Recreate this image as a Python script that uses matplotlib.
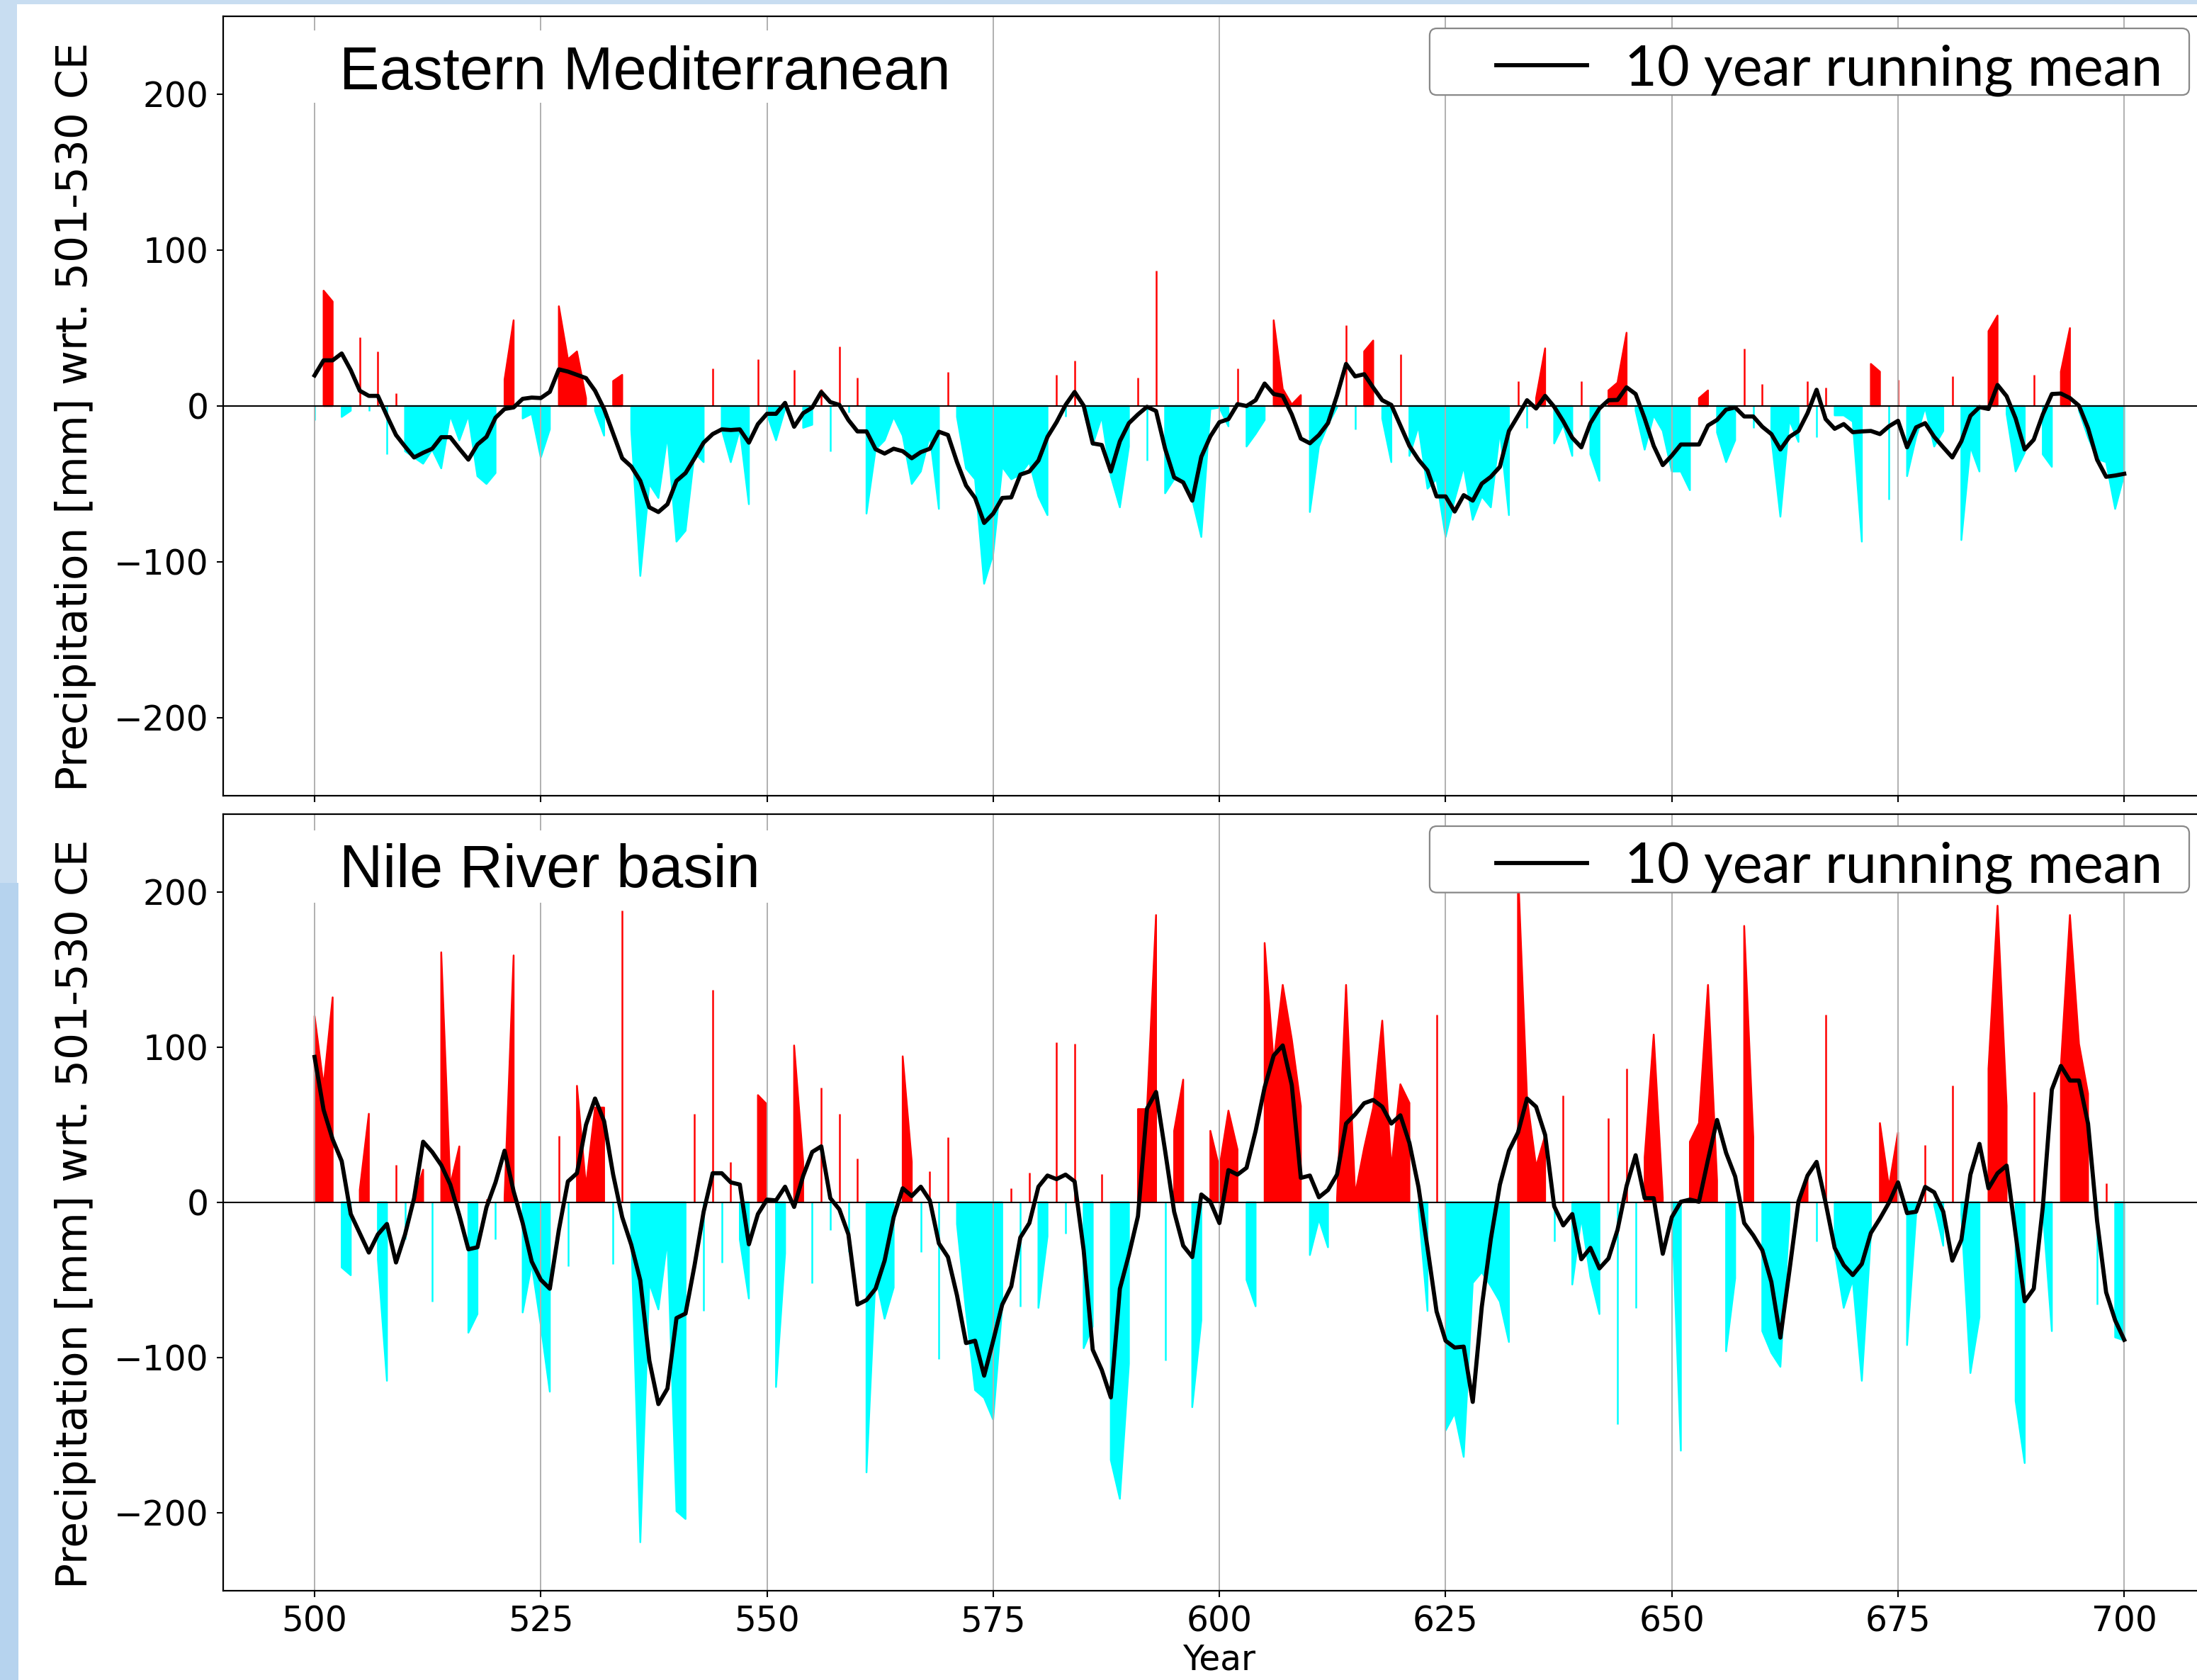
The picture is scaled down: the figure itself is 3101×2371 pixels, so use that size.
import numpy as np
import matplotlib
matplotlib.use('Agg')
import matplotlib.pyplot as plt
from matplotlib.lines import Line2D
from matplotlib.patches import FancyBboxPatch, Rectangle

# Years 500..700 CE
years = np.arange(500, 701)

# Eastern Mediterranean: annual precipitation anomaly [mm] wrt. 501-530 CE
em_anom = [
    -9, 74, 67, -7, -3, 44, -3, 35, -31, 8,            # 500
    -29, -33, -37, -28, -40, -6, -22, -6, -45, -50,    # 510
    -43, 17, 55, -8, -5, -33, -15, 64, 30, 35,         # 520
    5, -3, -19, 16, 20, -15, -109, -50, -59, -19,      # 530
    -87, -80, -30, -36, 24, -15, -36, -15, -63, 30,    # 540
    -5, -22, -2, 23, -14, -12, 11, -29, 38, -4,        # 550
    18, -69, -28, -22, -7, -19, -50, -42, -19, -66,    # 560
    22, -7, -40, -47, -114, -95, -39, -47, -44, -36,   # 570
    -58, -70, 20, -7, 29, -3, -25, -7, -45, -65,       # 580
    -26, 18, -35, 87, -56, -47, -49, -60, -84, -2,     # 590
    -1, -13, 24, -26, -18, -9, 55, 11, 1, 7,           # 600
    -68, -26, -12, -1, 52, -15, 35, 42, -8, -36,       # 610
    33, -32, -13, -53, -47, -84, -60, -39, -73, -58,   # 620
    -65, -16, -70, 16, -14, 5, 37, -24, -12, -32,      # 630
    16, -31, -48, 10, 15, 47, -3, -28, -6, -16,        # 640
    -42, -42, -54, 5, 10, -17, -36, -22, 37, -14,      # 650
    14, -20, -71, -9, -23, 16, -20, 12, -6, -6,        # 660
    -10, -87, 27, 22, -60, 17, -45, -20, -1, -26,      # 670
    -16, 19, -86, -26, -42, 48, 58, -5, -42, -30,      # 680
    20, -31, -39, 22, 50, -3, -20, -34, -36, -66,      # 690
    -44,                                               # 700
]

# Eastern Mediterranean: 10 year running mean
em_mean = [
    19.6, 29.3, 29.3, 33.7, 23, 9.8, 6.5, 6.5, -6.3, -18.6,
    -26, -33, -30, -27.4, -20, -20, -27.4, -34.4, -24.7, -19.8,
    -7.5, -1.9, -0.9, 4.6, 5.4, 5.1, 9.1, 23.5, 22.1, 20,
    17.9, 9.8, -1.9, -17.7, -33.5, -38.8, -48, -65, -68, -63,
    -48, -43, -33.5, -23.5, -18, -15, -15.4, -15, -23.5, -11.6,
    -5, -5, 2, -13.3, -4.6, -1, 9, 2.5, 0.7, -9,
    -16.3, -16.3, -27.7, -30.5, -27.4, -29, -33.5, -29.6, -27.4, -16.5,
    -18.6, -36, -51, -59, -75, -69, -59, -58.6, -44, -42,
    -35, -19.8, -10.4, 0.7, 9, 0.2, -24, -25, -42, -22.6,
    -11, -5.4, -0.5, -3.2, -27.4, -45.8, -49, -60.7, -32.6, -19.5,
    -10.4, -8.4, 1.2, 0, 3.7, 14.4, 7.7, 6.5, -5.4, -20.9,
    -23.9, -18.6, -11, 6.8, 27, 19, 20.4, 11.8, 3.7, 0.7,
    -12.5, -25.6, -34.4, -41.4, -58, -58, -67.7, -57.2, -60.7, -49.8,
    -45.4, -39, -16, -6.3, 3.7, -1.6, 6.5, -0.5, -9.8, -20.4,
    -26.5, -11, -1.6, 3.7, 3.9, 12, 7.7, -8, -25.6, -37.9,
    -31.8, -24.7, -24.7, -24.7, -12.5, -8.9, -2.3, -0.9, -6.7, -6.7,
    -13.3, -18, -27.9, -19.8, -16, -4.6, 10.4, -8.4, -14.6, -11.6,
    -16.8, -16.3, -16, -18, -13, -9.5, -26.5, -13.7, -11, -19.8,
    -26.5, -33, -22.6, -6.3, -0.7, -1.9, 13.5, 6.3, -8, -27.9,
    -21.6, -5.4, 7.7, 8, 5.1, 0.2, -14.2, -34.4, -45.4, -44.6,
    -43.5,
]

# Nile River basin: annual precipitation anomaly [mm] wrt. 501-530 CE
nile_anom = [
    120, 75, 132, -42, -47, 8, 57, -37, -115, 24,          # 500
    -24, 2, 21, -64, 161, 11, 36, -84, -72, 2,             # 510
    -24, 3, 159, -71, -40, -79, -122, 43, -41, 75,         # 520
    10, 61, 61, -40, 188, -20, -219, -52, -69, -24,        # 530
    -199, -204, 57, -70, 137, -39, 26, -24, -62, 69,       # 540
    63, -119, -33, 101, 26, -52, 74, -18, 57, -32,         # 550
    28, -174, -47, -75, -55, 94, 26, -32, 20, -101,        # 560
    42, -14, -70, -121, -126, -140, -67, 9, -67, 19,       # 570
    -68, -22, 103, -20, 102, -94, -80, 18, -166, -191,     # 580
    -104, 60, 60, 185, -102, 46, 79, -132, -76, 46,        # 590
    22, 59, 34, -50, -67, 167, 90, 140, 105, 62,           # 600
    -34, -11, -29, 2, 140, 5, 35, 61, 117, 22,             # 610
    76, 64, -3, -70, 121, -147, -136, -164, -52, -45,      # 620
    -54, -64, -90, 215, 67, 23, 43, -25, 69, -53,          # 630
    -10, -48, -72, 54, -143, 86, -68, 29, 108, 3,          # 640
    -3, -160, 39, 51, 140, 14, -96, -49, 178, 42,          # 650
    -83, -97, -106, -10, 1, 18, -25, 121, -31, -68,        # 660
    -50, -115, -21, 51, 10, 45, -92, -8, 37, -2,           # 670
    -28, 75, -8, -110, -74, 86, 191, 62, -128, -168,       # 680
    71, -5, -83, 88, 185, 102, 70, -66, 12, -87,           # 690
    -89,                                                   # 700
]

# Nile River basin: 10 year running mean
nile_mean = [
    93.6, 59.5, 40.5, 26.5, -7.6, -20, -32.4, -20.7, -14, -38.8,
    -20.7, 2.6, 39, 32.4, 23.9, 11.4, -8.5, -30.3, -29, -3.2,
    12.8, 33.2, 7, -13.4, -38.2, -49.9, -55.7, -17.8, 13.4, 18.7,
    49.9, 66.8, 52.2, 17.8, -9.6, -27.4, -50.4, -102, -130, -120,
    -74.6, -71.7, -40.5, -6.1, 18.7, 18.7, 12.8, 11.4, -27.1, -7.6,
    1.7, 1.2, 10, -3, 17, 32.4, 36, 2.6, -4.6, -20.7,
    -65.9, -63, -55.7, -37.6, -9.6, 9, 4, 10, 1.2, -26.5,
    -35.3, -60, -90.7, -89.2, -111.7, -89.2, -65.9, -54.2, -22.7, -13.4,
    10, 17.2, 14.9, 17.8, 13.4, -30.9, -95, -108, -125.7, -55.7,
    -33.8, -9, 60.3, 71, 33.2, -6.1, -28, -35.3, 5, 0.3,
    -13.4, 20.7, 17.8, 22.2, 45.8, 74, 94.5, 101, 75.5, 15.7,
    17.2, 3.2, 7.9, 17.8, 50.7, 56.6, 63.8, 65.9, 61.5, 50.7,
    56, 38.2, 9.9, -29.4, -70.3, -89.2, -93.6, -93, -128.6, -67.3,
    -23.6, 11.4, 33.2, 44.9, 66.8, 61.5, 43.4, -2.6, -14.9, -7.6,
    -36.7, -29.4, -42.6, -36.2, -17.8, 10.5, 30.3, 2.6, 2.6, -33.2,
    -9.6, 0.3, 1.7, 0.3, 27.4, 53, 31.8, 16.6, -13.4, -21.3,
    -30.9, -51.3, -87.2, -44, 0.6, 17.2, 26, -0.3, -29.4, -40.5,
    -46.9, -39.7, -19.8, -10.5, -0.3, 12.8, -7, -6.1, 9.9, 6.4,
    -6.1, -37.6, -24.2, 17.8, 37.6, 9, 18.7, 23.6, -20.7, -63.8,
    -55.7, -3.2, 72.6, 87.8, 78.4, 78.4, 50.7, -12, -58, -76.1,
    -88.6,
]

xticks = [500, 525, 550, 575, 600, 625, 650, 675, 700]
yticks = [-200, -100, 0, 100, 200]
titles = ['Eastern Mediterranean', 'Nile River basin']
ylabel = 'Precipitation [mm] wrt. 501-530 CE'
legend_label = '10 year running mean'

W, H = 3101, 2371
fig = plt.figure(figsize=(W / 100, H / 100), dpi=100)

# light blue screenshot frame
fig.patches.append(Rectangle((0, 1 - 6 / H), 1, 6 / H, transform=fig.transFigure,
                             facecolor='#c8ddf1', edgecolor='none', zorder=-5))
fig.patches.append(Rectangle((0, 1 - 1246 / H), 24 / W, 1246 / H, transform=fig.transFigure,
                             facecolor='#c8ddf1', edgecolor='none', zorder=-5))
fig.patches.append(Rectangle((0, 0), 26 / W, 1 - 1246 / H, transform=fig.transFigure,
                             facecolor='#b6d3ee', edgecolor='none', zorder=-5))

ax_left = 315 / W
ax_width = (3126 - 315) / W
ax1 = fig.add_axes([ax_left, 1 - 1123 / H, ax_width, 1100 / H])
ax2 = fig.add_axes([ax_left, 1 - 2244.5 / H, ax_width, 1095.5 / H])


def draw_panel(ax, anom, mean, title, title_box, ylab_y):
    anom = np.array(anom, dtype=float)
    ax.fill_between(years, anom, 0, where=anom > 0, color='red', lw=1.8)
    ax.fill_between(years, anom, 0, where=anom < 0, color='cyan', lw=1.8)
    ax.axhline(0, color='black', lw=1.5)
    ax.plot(years, mean, color='black', lw=4.2)
    ax.set_xlim(489.9, 710)
    ax.set_ylim(-250, 250)
    ax.set_xticks(xticks)
    ax.set_yticks(yticks)
    ax.grid(axis='x', color='#b0b0b0', lw=1.4)
    ax.tick_params(labelsize=35, length=6.5, width=1.5, pad=8)
    for sp in ax.spines.values():
        sp.set_linewidth(1.6)

    # white box behind the panel title (hides the grid lines)
    x0, y0, x1, y1 = title_box
    ax.add_patch(Rectangle((x0, y0), x1 - x0, y1 - y0, transform=ax.transAxes,
                           facecolor='white', edgecolor='none', zorder=3))
    ax.text(0.0583, 0.906, title, transform=ax.transAxes, fontsize=61,
            family='Liberation Sans', va='baseline', ha='left', zorder=4)

    # legend box (drawn by hand) and its content
    asp = ax.bbox.width / ax.bbox.height
    box = FancyBboxPatch((0.6058, 0.899), 0.9872 - 0.6058, 0.9845 - 0.899,
                         boxstyle='round,pad=0,rounding_size=0.0036', mutation_aspect=asp,
                         transform=ax.transAxes, facecolor='white', edgecolor='#888888',
                         lw=1.6, zorder=4)
    ax.add_patch(box)
    handle = Line2D([], [], color='black', lw=4.2)
    ax.legend([handle], [legend_label], loc='center right', bbox_to_anchor=(0.9737, 0.931),
              frameon=False, borderpad=0, borderaxespad=0, handlelength=1.62,
              handletextpad=0.67, prop={'family': 'Lato', 'size': 57})

    fig.text(107 / W, ylab_y, ylabel, rotation=90, fontsize=43, ha='center', va='center')


draw_panel(ax1, em_anom, em_mean, titles[0], (0.039, 0.889, 0.377, 0.982), 1 - 588 / H)
draw_panel(ax2, nile_anom, nile_mean, titles[1], (0.039, 0.886, 0.278, 0.979), 1 - 1713 / H)

ax1.tick_params(labelbottom=False)
ax2.set_xlabel('Year', fontsize=35, labelpad=4)

fig.savefig('out.png', dpi=100)
